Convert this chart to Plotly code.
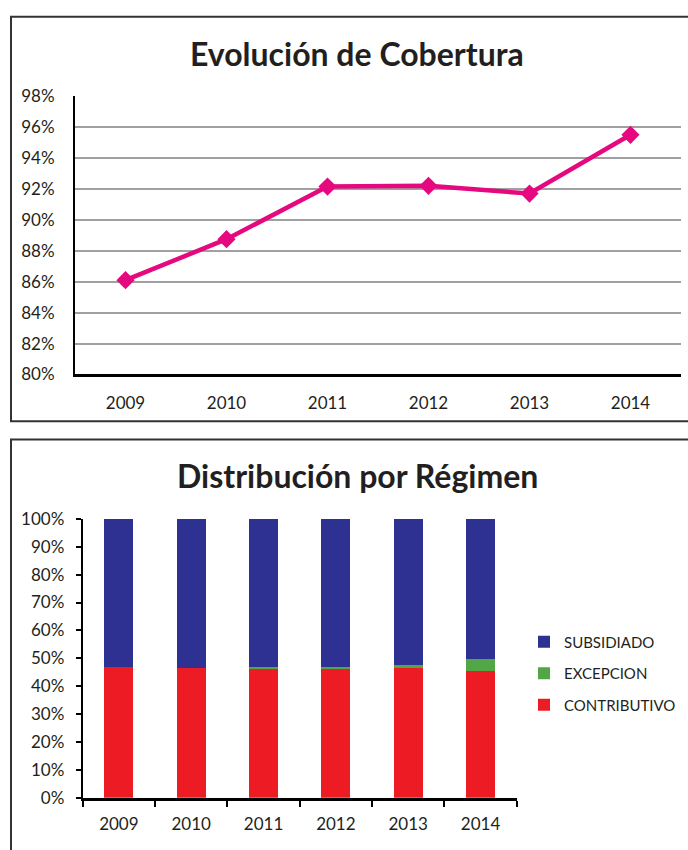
import plotly.graph_objects as go

W, H = 688, 850

years = ["2009", "2010", "2011", "2012", "2013", "2014"]
cobertura = [86.1, 88.75, 92.15, 92.2, 91.7, 95.5]

contributivo = [46.8, 46.5, 46.5, 46.5, 46.5, 45.5]
excepcion = [0.0, 0.0, 0.35, 0.35, 1.1, 4.1]
subsidiado = [53.2, 53.5, 52.95, 52.95, 52.4, 50.2]

cov_ticks = [80, 82, 84, 86, 88, 90, 92, 94, 96, 98]
cov_labels = ["80%", "82%", "84%", "86%", "88%", "90%", "92%", "94%", "96%", "98%"]
dist_ticks = [0, 10, 20, 30, 40, 50, 60, 70, 80, 90, 100]
dist_labels = ["0%", "10%", "20%", "30%", "40%", "50%", "60%", "70%", "80%", "90%", "100%"]

FONT = "Lato"
TXT = "#231f20"


def px_x(x):
    return x / W


def px_y(y):
    return 1 - y / H


fig = go.Figure()

fig.add_trace(go.Scatter(
    x=years, y=cobertura, mode="lines+markers",
    line=dict(color="#e6087f", width=4.5),
    marker=dict(symbol="diamond", size=14, color="#e6087f"),
    xaxis="x", yaxis="y", showlegend=False,
))

series = [("CONTRIBUTIVO", contributivo, "#ed1c24", 3),
          ("EXCEPCION", excepcion, "#52a646", 2),
          ("SUBSIDIADO", subsidiado, "#2e3192", 1)]
for name, vals, col, rank in series:
    fig.add_trace(go.Bar(
        x=years, y=vals, name=name, marker=dict(color=col, line=dict(width=0)),
        xaxis="x2", yaxis="y2", width=0.4, legendgroup=name, legendrank=rank,
    ))

fig.update_layout(
    width=W, height=H,
    margin=dict(l=0, r=0, t=0, b=0),
    paper_bgcolor="white", plot_bgcolor="white",
    font=dict(family=FONT, color=TXT, size=17),
    barmode="stack",
    xaxis=dict(domain=[px_x(75), px_x(681)], type="category", range=[-0.5, 5.5],
               showline=True, linecolor="black", linewidth=2.5, ticks="",
               ticklabelstandoff=11, showgrid=False, anchor="y",
               tickfont=dict(size=17)),
    yaxis=dict(domain=[px_y(372.7), px_y(87.3)], range=[80, 98],
               tickvals=cov_ticks, ticktext=cov_labels,
               showline=True, linecolor="black", linewidth=2,
               showgrid=True, gridcolor="#a0a0a0", gridwidth=1.6, ticks="",
               ticklabelstandoff=15, zeroline=False, anchor="x",
               tickfont=dict(size=17)),
    xaxis2=dict(domain=[px_x(82.7), px_x(516.7)], type="category", range=[-0.5, 5.5],
                showline=True, linecolor="black", linewidth=2.5, ticks="outside",
                tickson="boundaries", ticklen=6, tickwidth=1.5, tickcolor="black",
                ticklabelstandoff=9, showgrid=False, anchor="y2",
                tickfont=dict(size=17)),
    yaxis2=dict(domain=[px_y(806.7), px_y(520.7)], range=[0, 100],
                tickvals=dist_ticks, ticktext=dist_labels,
                showline=True, linecolor="black", linewidth=2,
                showgrid=False, ticks="outside", ticklen=5, tickwidth=1.5,
                tickcolor="black", ticklabelstandoff=8, zeroline=False, anchor="x2",
                tickfont=dict(size=17)),
    legend=dict(x=px_x(524), y=px_y(630), xanchor="left", yanchor="top",
                traceorder="grouped", tracegroupgap=9,
                font=dict(size=15), bgcolor="rgba(0,0,0,0)"),
    annotations=[
        dict(text="<b>Evolución de Cobertura</b>", x=px_x(357), y=px_y(44),
             xref="paper", yref="paper", showarrow=False,
             xanchor="center", yanchor="middle",
             font=dict(size=32, family=FONT, color=TXT)),
        dict(text="<b>Distribución por Régimen</b>", x=px_x(357), y=px_y(476),
             xref="paper", yref="paper", showarrow=False,
             xanchor="center", yanchor="middle",
             font=dict(size=32, family=FONT, color=TXT)),
    ],
    shapes=[
        dict(type="rect", xref="paper", yref="paper", x0=px_x(11), x1=1.05,
             y0=px_y(420.7), y1=px_y(6), line=dict(color="#333333", width=2)),
        dict(type="rect", xref="paper", yref="paper", x0=px_x(11), x1=1.05,
             y0=-0.05, y1=px_y(439.3), line=dict(color="#333333", width=2)),
    ],
)

fig.write_html(
    "out.html",
    config={"displayModeBar": False},
    post_script="document.body.style.margin='0';document.body.style.overflow='hidden';",
)
